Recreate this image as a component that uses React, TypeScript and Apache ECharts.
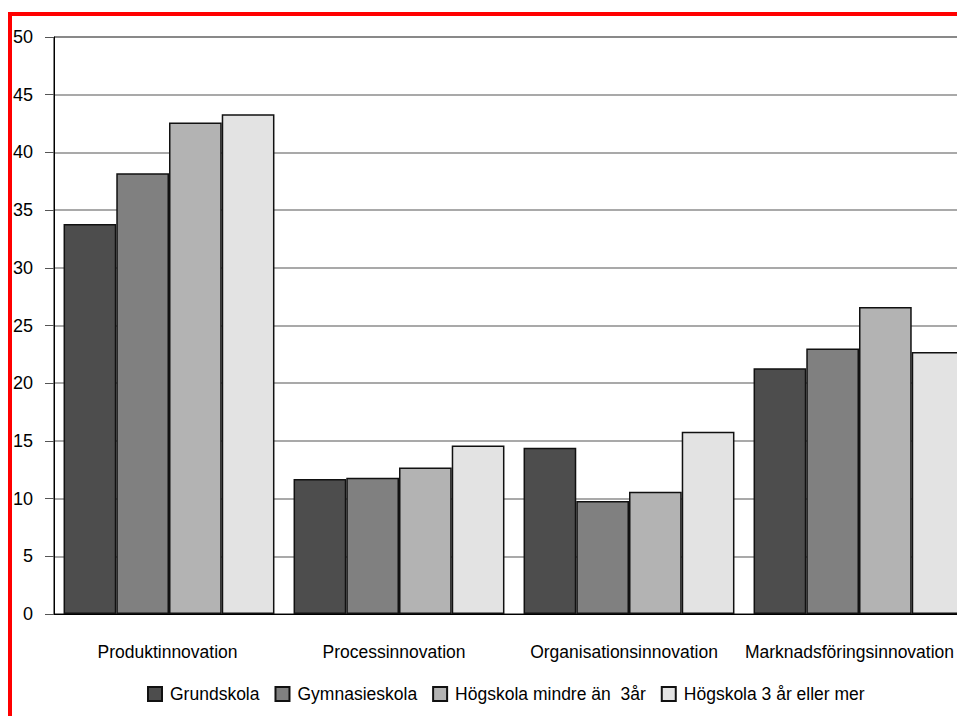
import React, { useEffect, useRef } from "react";
import * as echarts from "echarts";

const categories = ["Produktinnovation", "Processinnovation", "Organisationsinnovation", "Marknadsföringsinnovation"];
const seriesNames = ["Grundskola", "Gymnasieskola", "Högskola mindre än  3år", "Högskola 3 år eller mer"];
const grundskola = [33.8, 11.7, 14.4, 21.3];
const gymnasieskola = [38.2, 11.8, 9.8, 23.0];
const hogskolaMindre = [42.6, 12.7, 10.6, 26.6];
const hogskola3 = [43.3, 14.6, 15.8, 22.7];
const yTicks = { min: 0, max: 50, interval: 5 };

const colors = ["#4d4d4d", "#808080", "#b3b3b3", "#e3e3e3"];
const FONT = "'Liberation Sans', Arial, sans-serif";
const labelShift = [3, 10, 10, 19];

export default function App() {
  const ref = useRef<HTMLDivElement>(null);
  useEffect(() => {
    if (!ref.current) return;
    const chart = echarts.init(ref.current, null, { renderer: "svg" });
    const data = [grundskola, gymnasieskola, hogskolaMindre, hogskola3];
    const rich: Record<string, any> = {};
    labelShift.forEach((s, i) => {
      rich["c" + i] = { fontFamily: FONT, fontSize: 17.5, color: "#000", padding: [0, s, 0, 0] };
    });
    chart.setOption({
      animation: false,
      backgroundColor: "#ffffff",
      textStyle: { fontFamily: FONT },
      grid: {
        left: 54,
        top: 37,
        width: 920,
        height: 577,
        show: true,
        borderColor: "#000",
        borderWidth: 1,
        backgroundColor: "transparent",
      },
      legend: {
        left: 147,
        top: 685,
        padding: 0,
        itemWidth: 14,
        itemHeight: 14,
        itemGap: 15,
        icon: "rect",
        textStyle: { fontFamily: FONT, fontSize: 17.5, color: "#000", padding: [0, 0, 0, 3] },
        data: seriesNames,
      },
      xAxis: {
        type: "category",
        data: categories,
        axisLine: { lineStyle: { color: "#000", width: 1 } },
        axisTick: { show: false },
        axisLabel: {
          fontFamily: FONT,
          fontSize: 17.5,
          color: "#000",
          margin: 29,
          interval: 0,
          formatter: (v: string, idx: number) => `{c${idx}|${v}}`,
          rich,
        },
        splitLine: { show: false },
      },
      yAxis: {
        type: "value",
        min: yTicks.min,
        max: yTicks.max,
        interval: yTicks.interval,
        axisLine: { show: true, lineStyle: { color: "#000", width: 1 } },
        axisTick: { show: true, length: 9, lineStyle: { color: "#555", width: 1 } },
        axisLabel: { fontFamily: FONT, fontSize: 18, color: "#000", margin: 21 },
        splitLine: { show: true, lineStyle: { color: "#8c8c8c", width: 1.5 } },
      },
      series: data.map((d, i) => ({
        name: seriesNames[i],
        type: "bar",
        data: d,
        barGap: "0%",
        barCategoryGap: "8.3%",
        itemStyle: { color: colors[i], borderColor: "#111", borderWidth: 1.5 },
      })),
      graphic: [
        { type: "rect", shape: { x: 8, y: 12, width: 4, height: 704 }, style: { fill: "#ff0000" }, z: 100 },
        { type: "rect", shape: { x: 8, y: 12, width: 949, height: 4 }, style: { fill: "#ff0000" }, z: 100 },
      ],
    });
    return () => chart.dispose();
  }, []);
  return (
    <div style={{ position: "fixed", left: 0, top: 0, width: 957, height: 716, overflow: "hidden", background: "#fff" }}>
      <div ref={ref} style={{ width: 1000, height: 716 }} />
    </div>
  );
}
